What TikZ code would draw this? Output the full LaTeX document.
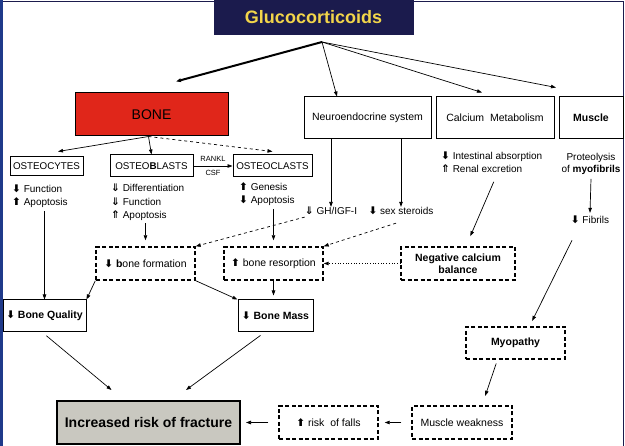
\documentclass[tikz,border=0pt]{standalone}
\usepackage{fontspec}
\setmainfont{Liberation Sans}
\newfontfamily\arrowfont{DejaVu Sans}
\usetikzlibrary{arrows.meta,calc}
\usepackage{xcolor}
\definecolor{navybox}{HTML}{1B1B4D}
\definecolor{goldtext}{HTML}{F2D54A}
\definecolor{bonered}{HTML}{E0261A}
\definecolor{framecol}{HTML}{1F3A8A}
\definecolor{fracgray}{HTML}{C9C8C0}
% arrow glyphs
\newcommand{\dwn}{{\arrowfont\bfseries\fontsize{10.5}{10}\selectfont ⬇}}
\newcommand{\upp}{{\arrowfont\bfseries\fontsize{10.5}{10}\selectfont ⬆}}
\newcommand{\hdwn}{{\arrowfont\bfseries\fontsize{10.5}{10}\selectfont ⇓}}
\newcommand{\hupp}{{\arrowfont\bfseries\fontsize{10.5}{10}\selectfont ⇑}}

\begin{document}
\begin{tikzpicture}[
x=1pt, y=-1pt,
box/.style={
	draw=black, line width=1pt,
	inner sep=0pt, align=center,
	font=\fontsize{10.5}{12}\selectfont,
},
dashbox/.style={
	box, line width=1.4pt, dash pattern=on 4pt off 2.5pt,
},
cell/.style={box, font=\fontsize{9.8}{11}\selectfont},
lbl/.style={
	inner sep=0pt, align=left,
	font=\fontsize{10}{13.5}\selectfont,
},
conn/.style={draw, line width=0.7pt, -{Triangle[length=5pt,width=3.5pt]}},
]
\useasboundingbox (0,0) rectangle (625,446);
\fill[white] (0,0) rectangle (625,446);
\draw[navybox, line width=1.2pt] (1,1.5) -- (623.5,1.5) -- (623.5,450);
\fill[framecol] (0,0) rectangle (2.5,446);

% top level
\node[box, fill=navybox, draw=navybox, minimum width=199pt, minimum height=35pt,
      text=goldtext, font=\fontsize{18}{20}\selectfont\bfseries] (gluco) at (313.5,17.5) {Glucocorticoids};
\coordinate (hub) at (322,42);
\node[box, fill=bonered, minimum width=153pt, minimum height=43pt,
      font=\fontsize{14}{16}\selectfont] (bone) at (151.5,114.5) {BONE};
\node[box, minimum width=127pt, minimum height=42pt] (neuro) at (367.5,118) {Neuroendocrine system};
\node[box, minimum width=118pt, minimum height=42pt] (calcium) at (495,118) {Calcium\ \ Metabolism};
\node[box, minimum width=64pt, minimum height=42pt, font=\fontsize{10.5}{12}\selectfont\bfseries] (muscle) at (591,118) {Muscle};

% bone cells
\node[cell, minimum width=73pt, minimum height=19pt] (osteocytes) at (46.5,166.5) {OSTEOCYTES};
\node[cell, minimum width=83pt, minimum height=22pt] (osteoblasts) at (151.5,166) {OSTEO\textbf{B}LASTS};
\node[cell, minimum width=79pt, minimum height=22pt] (osteoclasts) at (272.5,166) {OSTEOCLASTS};

\node[lbl, anchor=west] (cytestxt) at (12,196) {\dwn\ Function\\ \upp\ Apoptosis};
\node[lbl, anchor=west] (blastxt) at (111,202.5) {\hdwn\ Differentiation\\ \hdwn\ Function\\ \hupp\ Apoptosis};
\node[lbl, anchor=west] (clastxt) at (239,194) {\upp\ Genesis\\ \dwn\ Apoptosis};
\node[lbl] (gh) at (331,211) {\hdwn\ GH/IGF-I};
\node[lbl] (sex) at (401,211) {\dwn\ sex steroids};
\node[lbl, anchor=west] (caltxt) at (441,162) {\dwn\ Intestinal absorption\\ \hupp\ Renal excretion};
\node[lbl, align=center, font=\fontsize{10}{12}\selectfont] (musctxt) at (591,164) {Proteolysis\\ of \textbf{myofibrils}};
\node[lbl] (fibrils) at (590,220) {\dwn\ Fibrils};

% middle level
\node[dashbox, minimum width=99pt, minimum height=33pt] (boneform) at (145.5,263.5) {\dwn\ \textbf{b}one formation};
\node[dashbox, minimum width=99pt, minimum height=33pt] (boneres) at (273.5,263.5) {\upp\ bone resorption};
\node[dashbox, minimum width=114pt, minimum height=33pt, font=\fontsize{10.5}{12.5}\selectfont\bfseries] (negcal) at (458,263.5) {Negative calcium\\ balance};
\node[box, minimum width=83pt, minimum height=32pt, font=\fontsize{10.5}{12}\selectfont\bfseries] (quality) at (44.5,316) {\dwn\ Bone Quality};
\node[box, minimum width=75pt, minimum height=32pt, font=\fontsize{10.5}{12}\selectfont\bfseries] (mass) at (275.5,316) {\dwn\ Bone Mass};
\node[dashbox, minimum width=99pt, minimum height=32pt, font=\fontsize{10.5}{12}\selectfont\bfseries] (myopathy) at (515.5,343) {Myopathy};

% bottom row
\node[box, fill=fracgray, line width=2pt, minimum width=183pt, minimum height=43pt,
      font=\fontsize{14}{16}\selectfont\bfseries] (fracture) at (148.5,422.5) {Increased risk of fracture};
\node[dashbox, minimum width=99pt, minimum height=33pt] (falls) at (328.5,422.5) {\upp\ risk\ \ of falls};
\node[dashbox, minimum width=100pt, minimum height=33pt] (weakness) at (462,422.5) {Muscle weakness};

% connectors
\draw[conn, line width=2pt] (hub) -- ([xshift=24.5pt,yshift=11pt]bone.north);
\draw[conn] (hub) -- ([xshift=-30.5pt]neuro.north);
\draw[conn] (hub) -- ([xshift=-13pt,yshift=4pt]calcium.north);
\draw[conn] (hub) -- ([xshift=-35pt,yshift=9pt]muscle.north);

\draw[conn] ([xshift=-3pt]bone.south) -- ([xshift=11.5pt,yshift=5pt]osteocytes.north);
\draw[conn] ([xshift=-3pt]bone.south) -- (osteoblasts.north);
\draw[conn, dashed] ([xshift=-3pt]bone.south) -- ([yshift=3pt]osteoclasts.north);
\draw[conn] (osteoblasts.east) -- node[above=1pt, font=\fontsize{7.5}{8}\selectfont]{RANKL}
      node[below=1pt, font=\fontsize{7.5}{8}\selectfont]{CSF} (osteoclasts.west);

\draw[conn] ([yshift=-3pt]cytestxt.south -| quality.north) -- (quality.north);
\draw[conn, shorten >=6pt] ([yshift=-2pt]blastxt.south -| boneform.north) -- (boneform.north);
\draw[conn, shorten >=6pt] ([yshift=-3pt]clastxt.south -| boneres.north) -- (boneres.north);
\draw[conn] (gh.north |- neuro.south) -- (gh.north);
\draw[conn] (sex.north |- neuro.south) -- (sex.north);
\draw[conn, dashed] ([yshift=-2pt]gh.south west) -- (boneform.north east);
\draw[conn, dashed] ([xshift=-5pt,yshift=-8pt]sex.south) -- (boneres.north east);
\draw[conn, shorten >=11pt] ([xshift=2pt,yshift=-9pt]caltxt.south) -- ([xshift=8pt]negcal.north);
\draw[conn, dotted, line width=1pt] (negcal.west) -- (boneres.east);
\draw[conn] ([yshift=-4pt]musctxt.south) -- ([yshift=3pt]fibrils.north);
\draw[conn, shorten <=18pt, shorten >=6pt] ([xshift=-10pt]fibrils.south) -- ([xshift=14pt]myopathy.north);

\draw[conn] (boneform.south west) -- (quality.north east);
\draw[conn] (boneform.south east) -- (mass.north west);
\draw[conn, shorten >=4pt] (boneres.south) -- (boneres.south |- mass.north);
\draw[conn, shorten <=5pt] ([xshift=-2pt]quality.south) -- ([xshift=-37pt,yshift=10pt]fracture.north);
\draw[conn, shorten <=5pt] ([xshift=-11pt]mass.south) -- ([xshift=37.5pt,yshift=10pt]fracture.north);
\draw[conn, shorten <=4pt, shorten >=10pt] ([xshift=-18pt]myopathy.south) -- ([xshift=20pt]weakness.north);
\draw[conn, shorten <=10pt, shorten >=6pt] (weakness.west) -- (falls.east);
\draw[conn, shorten <=10pt, shorten >=5pt] (falls.west) -- (fracture.east);
\end{tikzpicture}
\end{document}
